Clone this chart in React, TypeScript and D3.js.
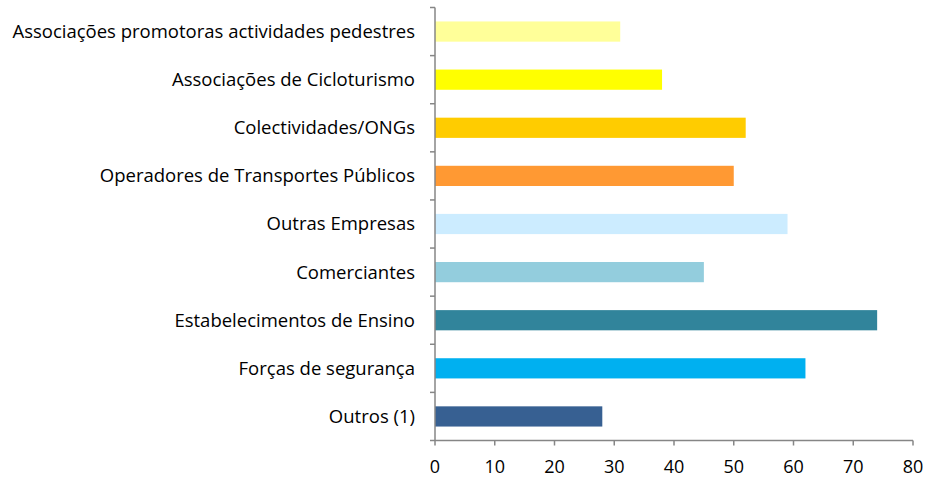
import * as d3 from "d3";
import { useEffect, useRef } from "react";

// categories from top to bottom
const categories = [
  "Associações promotoras actividades pedestres",
  "Associações de Cicloturismo",
  "Colectividades/ONGs",
  "Operadores de Transportes Públicos",
  "Outras Empresas",
  "Comerciantes",
  "Estabelecimentos de Ensino",
  "Forças de segurança",
  "Outros (1)",
];
const values = [31, 38, 52, 50, 59, 45, 74, 62, 28];
const colors = [
  "#FFFF99",
  "#FFFF00",
  "#FFCC00",
  "#FF9933",
  "#CCECFF",
  "#93CDDD",
  "#31849B",
  "#00B0F0",
  "#376092",
];
const xTicks = [0, 10, 20, 30, 40, 50, 60, 70, 80];

const W = 926;
const H = 479;
const margin = { top: 7.5, left: 435, right: 13, bottom: 38.5 };
const FONT = "'Open Sans', Lato, sans-serif";

const App = () => {
  const ref = useRef(null);

  useEffect(() => {
    const svg = d3.select(ref.current);
    svg.selectAll("*").remove();

    const innerW = W - margin.left - margin.right;
    const innerH = H - margin.top - margin.bottom;

    const x = d3.scaleLinear().domain([0, 80]).range([0, innerW]);
    const y = d3
      .scaleBand()
      .domain(categories)
      .range([0, innerH])
      .paddingInner(0.58)
      .paddingOuter(0.29);

    const g = svg
      .append("g")
      .attr("transform", `translate(${margin.left},${margin.top})`);

    g.selectAll(".bar")
      .data(categories)
      .enter()
      .append("rect")
      .attr("x", 0)
      .attr("y", (d) => y(d))
      .attr("width", (d, i) => x(values[i]))
      .attr("height", y.bandwidth())
      .style("fill", (d, i) => colors[i]);

    const step = innerH / categories.length;

    // y axis line + ticks at band boundaries
    const yAxis = g.append("g");
    yAxis
      .append("line")
      .attr("x1", 0)
      .attr("x2", 0)
      .attr("y1", 0)
      .attr("y2", innerH)
      .attr("stroke", "#868686")
      .attr("stroke-width", 1.5);
    yAxis
      .selectAll(".ytick")
      .data(d3.range(categories.length + 1))
      .enter()
      .append("line")
      .attr("x1", -5)
      .attr("x2", 0)
      .attr("y1", (d) => d * step)
      .attr("y2", (d) => d * step)
      .attr("stroke", "#868686")
      .attr("stroke-width", 1.5);
    yAxis
      .selectAll(".ylabel")
      .data(categories)
      .enter()
      .append("text")
      .attr("x", -20)
      .attr("y", (d) => y(d) + y.bandwidth() / 2)
      .attr("dy", "0.35em")
      .attr("text-anchor", "end")
      .style("font-family", FONT)
      .style("font-size", "18.5px")
      .style("fill", "#000")
      .text((d) => d);

    // x axis
    const xAxis = g.append("g").attr("transform", `translate(0,${innerH})`);
    xAxis
      .append("line")
      .attr("x1", 0)
      .attr("x2", innerW)
      .attr("stroke", "#868686")
      .attr("stroke-width", 1.5);
    xAxis
      .selectAll(".xtick")
      .data(xTicks)
      .enter()
      .append("line")
      .attr("x1", (d) => x(d))
      .attr("x2", (d) => x(d))
      .attr("y1", 0)
      .attr("y2", 5)
      .attr("stroke", "#868686")
      .attr("stroke-width", 1.5);
    xAxis
      .selectAll(".xlabel")
      .data(xTicks)
      .enter()
      .append("text")
      .attr("x", (d) => x(d))
      .attr("y", 26)
      .attr("dy", "0.35em")
      .attr("text-anchor", "middle")
      .style("font-family", FONT)
      .style("font-size", "18px")
      .style("fill", "#000")
      .text((d) => d);
  }, []);

  return (
    <svg
      ref={ref}
      width={W}
      height={H}
      style={{ position: "absolute", left: 0, top: 0, background: "#fff" }}
    ></svg>
  );
};

export default App;
